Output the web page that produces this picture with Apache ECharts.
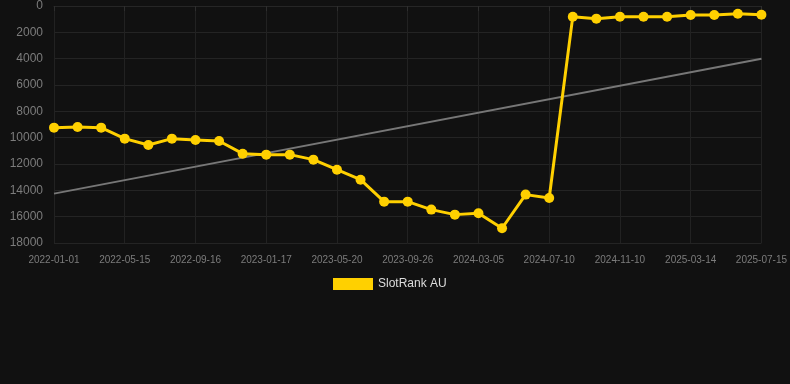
<!DOCTYPE html>
<html><head><meta charset="utf-8">
<script src="https://cdn.jsdelivr.net/npm/echarts@6/dist/echarts.min.js"></script>
<style>html,body{margin:0;padding:0;background:#111111;}#c{width:790px;height:384px;}</style>
</head><body><div id="c"></div>
<script>
const categories = ['2022-01-01','2022-02-14','2022-03-30','2022-05-15','2022-06-25','2022-08-05','2022-09-16','2022-10-27','2022-12-07','2023-01-17','2023-02-27','2023-04-09','2023-05-20','2023-07-01','2023-08-14','2023-09-26','2023-11-17','2024-01-11','2024-03-05','2024-04-16','2024-05-28','2024-07-10','2024-08-20','2024-09-30','2024-11-10','2024-12-21','2025-01-31','2025-03-14','2025-04-24','2025-06-04','2025-07-15'];
const rankValues = [9240,9190,9240,10075,10555,10075,10175,10250,11215,11290,11290,11670,12430,13190,14860,14860,15465,15845,15740,16880,14325,14580,810,960,810,810,810,685,685,583,660];
const trendEnds = [14250, 4000];
const yTicks = {min:0, max:18000, interval:2000};

const trend = categories.map((c,i)=> i===0 ? trendEnds[0] : (i===categories.length-1 ? trendEnds[1] : null));

const chart = echarts.init(document.getElementById('c'));
chart.setOption({
  backgroundColor:'#111111',
  animation:false,
  grid:{left:54,right:28,top:6,bottom:141},
  legend:{data:['SlotRank AU'],top:278,left:333,itemWidth:40,itemHeight:12,icon:'rect',padding:0,
    textStyle:{color:'#dddddd',fontSize:12,fontFamily:'Arial, Liberation Sans, sans-serif'}},
  xAxis:{type:'category',data:categories,boundaryGap:false,
    axisLine:{show:true,lineStyle:{color:'#262626'}},
    axisTick:{show:true,interval:2,lineStyle:{color:'#2e2e2e'}},
    axisLabel:{interval:2,color:'#7c7c7c',fontSize:10,margin:12,fontFamily:'Arial, Liberation Sans, sans-serif'},
    splitLine:{show:true,interval:2,lineStyle:{color:'#222222'}}},
  yAxis:{type:'value',inverse:true,min:yTicks.min,max:yTicks.max,interval:yTicks.interval,
    axisLine:{show:false},axisTick:{show:false},
    axisLabel:{color:'#7c7c7c',fontSize:12,margin:11,formatter:v=>String(v),fontFamily:'Arial, Liberation Sans, sans-serif'},
    splitLine:{lineStyle:{color:'#242424'}}},
  series:[
    {name:'trend',type:'line',data:trend,connectNulls:true,showSymbol:false,symbol:'none',
      lineStyle:{color:'#777777',width:2},itemStyle:{color:'#777777'},z:1},
    {name:'SlotRank AU',type:'line',data:rankValues,symbol:'circle',symbolSize:10,
      lineStyle:{color:'#FFD000',width:3},itemStyle:{color:'#FFD000'},z:2}
  ]
});
</script></body></html>
